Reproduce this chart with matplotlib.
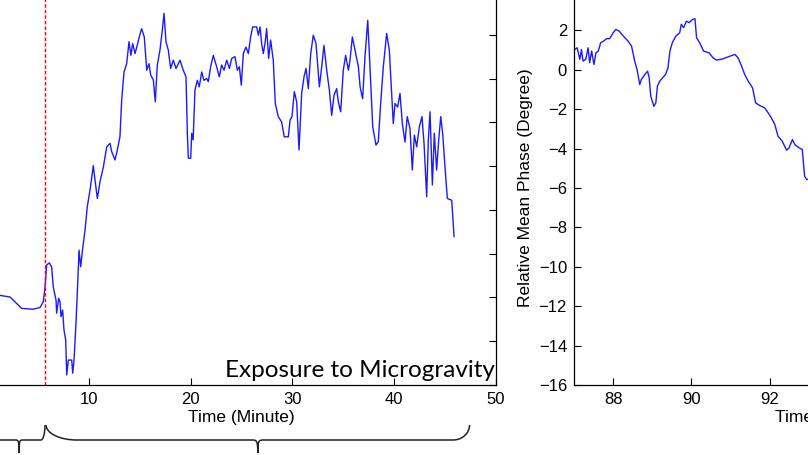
import numpy as np
import matplotlib.pyplot as plt
from matplotlib.path import Path
from matplotlib.patches import PathPatch
from matplotlib.transforms import blended_transform_factory

plt.rcParams['font.family'] = ['Liberation Sans', 'DejaVu Sans']

# left panel: phase during exposure (minutes, arbitrary units, labels cropped)
t_exp = [1.2, 2.26, 2.75, 3.41, 4.52, 5.21, 5.53, 5.70, 5.86, 6.12, 6.35, 6.51, 6.78, 6.84,
         7.04, 7.17, 7.27, 7.43, 7.56, 7.73, 7.83, 7.99, 8.32, 8.42, 8.55, 8.74, 8.91, 9.04,
         9.20, 9.40, 9.63, 9.85, 10.12, 10.44, 10.61, 10.84, 11.10, 11.43, 11.76, 12.08,
         12.25, 12.57, 12.74, 13.06, 13.23, 13.46, 13.72, 13.95, 14.14, 14.31, 14.54, 14.77,
         14.96, 15.19, 15.45, 15.69, 15.91, 16.08, 16.34, 16.53, 16.73, 16.99, 17.22, 17.39,
         17.58, 17.81, 18.04, 18.30, 18.57, 18.96, 19.28, 19.55, 19.68, 19.78, 20.01, 20.11,
         20.25, 20.43, 20.66, 20.85, 21.09, 21.31, 21.58, 21.74, 21.97, 22.23, 22.56, 22.82,
         23.05, 23.28, 23.55, 23.81, 24.04, 24.36, 24.59, 24.79, 24.98, 25.18, 25.44, 25.67,
         25.90, 26.10, 26.49, 26.66, 26.82, 26.98, 27.14, 27.31, 27.47, 27.67, 27.86, 28.12,
         28.32, 28.61, 28.94, 29.20, 29.60, 29.77, 29.96, 30.19, 30.42, 30.65, 30.91, 31.14,
         31.34, 31.56, 31.80, 32.05, 32.32, 32.65, 32.88, 33.10, 33.37, 33.63, 33.86, 34.09,
         34.35, 34.51, 34.74, 35.00, 35.23, 35.50, 35.66, 35.89, 36.15, 36.48, 36.65, 36.90,
         37.13, 37.40, 37.62, 37.89, 38.21, 38.44, 38.67, 38.93, 39.26, 39.52, 39.75, 39.91,
         40.08, 40.34, 40.57, 40.80, 41.06, 41.28, 41.55, 41.78, 41.98, 42.21, 42.47, 42.73,
         42.93, 43.19, 43.35, 43.52, 43.75, 43.94, 44.17, 44.37, 44.57, 44.76, 44.99, 45.22,
         45.65, 45.88]
v_exp = [2.05, 2.01, 1.90, 1.75, 1.73, 1.77, 1.90, 2.24, 2.74, 2.79, 2.70, 2.24, 1.94, 1.64,
         1.98, 1.90, 1.56, 1.71, 1.26, 1.03, 0.23, 0.57, 0.57, 0.27, 0.57, 1.41, 2.32, 3.08,
         2.70, 3.12, 3.54, 4.07, 4.45, 5.01, 4.68, 4.26, 4.64, 4.98, 5.44, 5.52,
         5.33, 5.14, 5.30, 5.67, 6.51, 7.15, 7.34, 7.84, 7.53, 7.80, 7.57, 7.77,
         7.95, 8.14, 7.95, 7.19, 7.34, 7.08, 6.97, 6.47, 7.31, 7.65, 8.10, 8.49,
         7.84, 7.65, 7.23, 7.42, 7.23, 7.42, 7.19, 7.04, 5.74, 5.18, 5.18, 5.75,
         5.60, 6.74, 6.96, 6.81, 7.15, 6.96, 7.00, 6.93, 7.27, 7.53, 7.27, 7.04,
         7.31, 7.19, 7.42, 7.23, 7.46, 7.50, 7.19, 7.27, 6.85, 7.57, 7.72, 7.57,
         7.95, 8.18, 8.18, 7.99, 8.18, 7.80, 7.57, 7.80, 8.14, 7.46, 7.88, 7.42,
         6.43, 6.13, 6.01, 5.67, 5.67, 6.05, 6.13, 6.70, 6.47, 5.37, 6.66, 7.04,
         7.23, 6.77, 7.57, 7.99, 7.80, 6.81, 7.27, 7.76, 7.19, 6.74, 6.16, 6.62,
         6.77, 6.47, 6.24, 7.19, 7.53, 7.19, 7.42, 7.95, 7.65, 7.27, 6.81, 6.54,
         7.50, 8.33, 7.27, 5.90, 5.48, 5.56, 6.43, 7.27, 8.03, 7.65, 6.66, 5.97,
         6.43, 6.35, 6.66, 5.97, 5.55, 6.13, 5.86, 4.91, 5.71, 5.44, 5.90, 6.13,
         5.52, 4.30, 5.59, 6.24, 4.57, 5.75, 4.91, 5.59, 6.13, 5.75, 4.98, 4.26,
         4.22, 3.39]
exposure_start = 5.7

# right panel: relative mean phase (degree)
t_post = [87.02, 87.08, 87.15, 87.19, 87.23, 87.30, 87.36, 87.40, 87.45, 87.51, 87.56, 87.62,
          87.68, 87.76, 87.83, 87.91, 88.00, 88.07, 88.15, 88.26, 88.38, 88.47, 88.55, 88.61,
          88.68, 88.72, 88.81, 88.88, 88.92, 88.96, 89.04, 89.09, 89.13, 89.19, 89.26, 89.34,
          89.40, 89.45, 89.51, 89.60, 89.70, 89.74, 89.80, 89.87, 89.94, 90.03, 90.09, 90.13,
          90.21, 90.31, 90.45, 90.55, 90.64, 90.81, 90.98, 91.11, 91.19, 91.28, 91.36, 91.45,
          91.56, 91.64, 91.74, 91.87, 91.96, 92.04, 92.13, 92.21, 92.32, 92.43, 92.49, 92.58,
          92.64, 92.72, 92.83, 92.89, 92.95, 93.05]
v_post = [1.03, 1.12, 0.53, 1.03, 0.44, 0.53, 1.12, 0.36, 0.95, 0.27, 0.86, 0.95,
          1.37, 1.46, 1.58, 1.58, 1.88, 2.05, 1.97, 1.71, 1.46, 1.20, 0.44, 0.02,
          -0.75, -0.49, -0.24, -0.07, -0.41, -1.34, -1.85, -1.68, -0.83, -0.58, -0.41, -0.24,
          0.10, 0.95, 1.37, 1.71, 1.88, 2.31, 2.14, 2.47, 2.39, 2.56, 2.59, 1.63,
          1.37, 0.95, 0.86, 0.61, 0.49, 0.56, 0.69, 0.78, 0.61, 0.19, -0.24, -0.58,
          -0.92, -1.68, -1.81, -1.93, -2.19, -2.44, -2.78, -3.37, -3.63, -4.08, -3.97, -3.54,
          -3.80, -3.92, -4.05, -5.41, -5.58, -5.50]

W, H = 808, 455
fig = plt.figure(figsize=(W / 100, H / 100), dpi=100)

# axes extend past the canvas, like the cropped original
ax1 = fig.add_axes([-13 / W, 70 / H, 509 / W, 394 / H])
ax2 = fig.add_axes([574 / W, 70 / H, 509 / W, 394 / H])

blue = '#1a1aff'
ax1.plot(t_exp, v_exp, color=blue, lw=1.0)
ax1.axvline(exposure_start, color='red', ls='--', lw=1.0, dashes=(2.5, 1.5))
ax1.set_xlim(0, 50)
ax1.set_ylim(0, 9)
ax1.set_xticks([0, 10, 20, 30, 40, 50], ['', '10', '20', '30', '40', '50'])
ax1.set_yticks(range(0, 10))
ax1.set_xlabel('Time (Minute)', fontsize=12.5, labelpad=2)
ax1.text(0.997, 0.02, 'Exposure to Microgravity', transform=ax1.transAxes,
         ha='right', va='baseline', fontsize=17.5, family=['Lato', 'DejaVu Sans'])

ax2.plot(t_post, v_post, color=blue, lw=1.0)
ax2.set_xlim(87, 100)
ax2.set_ylim(-16, 4)
ax2.set_xticks([88, 90, 92])
ax2.set_yticks(range(-16, 3, 2))
ax2.set_xlabel('Time (Minute)', fontsize=12.5, labelpad=2)
ax2.set_ylabel('Relative Mean Phase (Degree)', fontsize=12.5, labelpad=4)

for ax in (ax1, ax2):
    ax.tick_params(direction='in', top=True, right=True, length=5, width=0.8,
                   labelsize=12, pad=5)
    for s in ax.spines.values():
        s.set_linewidth(0.9)
ax1.tick_params(labelleft=False)

# braces below the left axis
tr = blended_transform_factory(ax1.transData, fig.transFigure)
y_top, y_mid, y_tip = 30 / H, 15 / H, 2 / H
y_c = y_mid + 0.45 * (y_top - y_mid)


def brace(x0, x1, r0, r1, rt):
    xc = (x0 + x1) / 2
    verts = [(x0, y_top), (x0, y_c), (x0 + 0.45 * r0, y_mid), (x0 + r0, y_mid),
             (xc - rt, y_mid), (xc - 0.2 * rt, y_mid), (xc, y_mid), (xc, y_tip),
             (xc, y_mid), (xc + 0.2 * rt, y_mid), (xc + rt, y_mid),
             (x1 - r1, y_mid), (x1 - 0.45 * r1, y_mid), (x1, y_c), (x1, y_top)]
    codes = [Path.MOVETO, Path.CURVE4, Path.CURVE4, Path.CURVE4,
             Path.LINETO, Path.CURVE4, Path.CURVE4, Path.CURVE4,
             Path.CURVE4, Path.CURVE4, Path.CURVE4,
             Path.LINETO, Path.CURVE4, Path.CURVE4, Path.CURVE4]
    fig.add_artist(PathPatch(Path(verts, codes), transform=tr, fill=False,
                             lw=1.1, color='#222222'))


brace(0.6, 5.7, 0.4, 0.4, 0.4)
brace(5.8, 47.4, 3.0, 1.6, 0.6)

fig.savefig('out.png', dpi=100)
